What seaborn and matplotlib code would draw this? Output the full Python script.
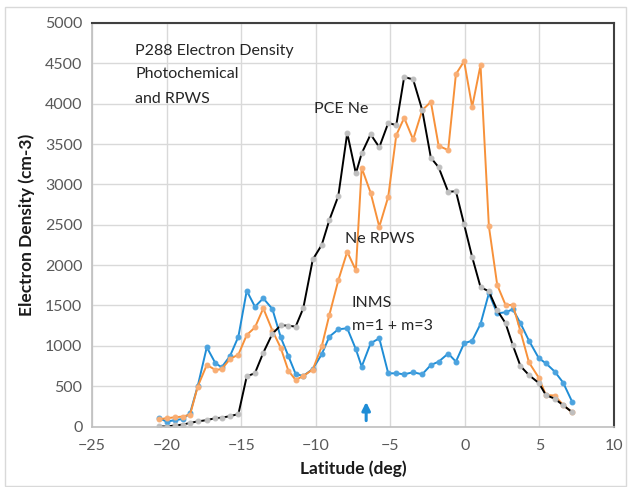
import matplotlib
matplotlib.use("Agg")
import matplotlib.pyplot as plt
import seaborn as sns
import pandas as pd
from matplotlib.patches import Rectangle

# latitude (deg) shared by the three series
lat = [-20.5, -20.0, -19.44, -18.92, -18.43, -17.92, -17.31, -16.73, -16.31, -15.75,
       -15.19, -14.63, -14.08, -13.52, -12.91, -12.35, -11.84, -11.35, -10.84, -10.2,
       -9.6, -9.09, -8.49, -7.89, -7.31, -6.92, -6.32, -5.74, -5.14, -4.6,
       -4.07, -3.47, -2.86, -2.28, -1.76, -1.12, -0.6, -0.05, 0.49, 1.05,
       1.61, 2.17, 2.73, 3.22, 3.73, 4.3, 4.96, 5.43, 6.03, 6.59, 7.19]

# PCE Ne (photochemical)
pce_ne = [5, 0, 15, 25, 45, 65, 80, 105, 110, 130,
          155, 622, 662, 915, 1150, 1255, 1250, 1238, 1465, 2070,
          2250, 2558, 2855, 3635, 3136, 3384, 3620, 3460, 3760, 3734,
          4330, 4300, 3920, 3330, 3212, 2908, 2915, 2504, 2100, 1728,
          1675, 1440, 1280, 1005, 750, 638, 540, 392, 345, 265, 180]

# Ne RPWS
ne_rpws = [90, 105, 115, 125, 148, 495, 764, 702, 712, 838,
           892, 1135, 1228, 1465, 1190, 975, 693, 578, 627, 707,
           994, 1382, 1811, 2166, 1935, 3205, 2896, 2475, 2846, 3610,
           3824, 3556, 3919, 4022, 3478, 3424, 4365, 4525, 3960, 4476,
           2483, 1754, 1506, 1506, 1180, 795, 605, 392, 384, 268, 178]

# INMS m=1 + m=3
inms = [104, 62, 80, 95, 166, 500, 983, 785, 735, 875,
        1114, 1683, 1485, 1589, 1457, 1106, 875, 652, 627, 714,
        896, 1114, 1205, 1218, 958, 743, 1032, 1094, 660, 660,
        648, 673, 648, 763, 804, 905, 805, 1032, 1064, 1271,
        1651, 1403, 1416, 1453, 1280, 1064, 847, 785, 681, 545, 310]

title_lines = ["P288 Electron Density", "Photochemical", "and RPWS"]

df = pd.DataFrame({"lat": lat, "pce": pce_ne, "rpws": ne_rpws, "inms": inms})

sns.set_style("white")
plt.rcParams["font.family"] = ["Lato", "DejaVu Sans"]

fig = plt.figure(figsize=(6.31, 4.87), dpi=100)
ax = fig.add_axes([0.146, 0.124, 0.827, 0.829])

sns.lineplot(data=df, x="lat", y="inms", ax=ax, sort=False, color="#1f8dd6", lw=1.4,
             marker="o", markersize=3.5, markerfacecolor="#4ba3df", markeredgecolor="#4ba3df")
sns.lineplot(data=df, x="lat", y="rpws", ax=ax, sort=False, color="#f7913a", lw=1.4,
             marker="o", markersize=3.5, markerfacecolor="#f9ae74", markeredgecolor="#f9ae74")
sns.lineplot(data=df, x="lat", y="pce", ax=ax, sort=False, color="black", lw=1.4,
             marker="o", markersize=3.5, markerfacecolor="#bfbfbf", markeredgecolor="#bfbfbf")

ax.set_xlim(-25, 10)
ax.set_ylim(0, 5000)
ax.set_xticks(range(-25, 11, 5))
ax.set_yticks(range(0, 5001, 500))
ax.grid(True, color="#d9d9d9", lw=1)
ax.set_axisbelow(True)
ax.tick_params(length=0, labelsize=11.5, colors="#595959")
ax.tick_params(axis="x", pad=9)
ax.tick_params(axis="y", pad=7)

for s in ["left", "bottom"]:
    ax.spines[s].set_color("#bfbfbf")
    ax.spines[s].set_linewidth(1.2)
for s in ["top", "right"]:
    ax.spines[s].set_color("#404040")
    ax.spines[s].set_linewidth(1.5)

ax.set_xlabel("Latitude (deg)", fontsize=12.5, fontweight="bold", color="#1a1a1a", labelpad=5)
ax.set_ylabel("Electron Density (cm-3)", fontsize=12.5, fontweight="bold", color="#1a1a1a", labelpad=7)

for txt, yv in zip(title_lines, [4650, 4365, 4060]):
    ax.text(-22.1, yv, txt, fontsize=11.5, va="center", ha="left")
ax.text(-10.1, 3928, "PCE Ne", fontsize=11.5, va="center", ha="left")
ax.text(-8.05, 2319, "Ne RPWS", fontsize=11.5, va="center", ha="left")
ax.text(-7.6, 1535, "INMS", fontsize=11.5, va="center", ha="left")
ax.text(-7.6, 1246, "m=1 + m=3", fontsize=11.5, va="center", ha="left")

ax.annotate("", xy=(-6.62, 340), xytext=(-6.62, 40),
            arrowprops=dict(arrowstyle="-|>", color="#1f8dd6", lw=2.2, mutation_scale=12))

fig.patches.append(Rectangle((0.008, 0.002), 0.984, 0.984, transform=fig.transFigure,
                             fill=False, edgecolor="#d9d9d9", lw=1))

fig.savefig("out.png", dpi=100)
